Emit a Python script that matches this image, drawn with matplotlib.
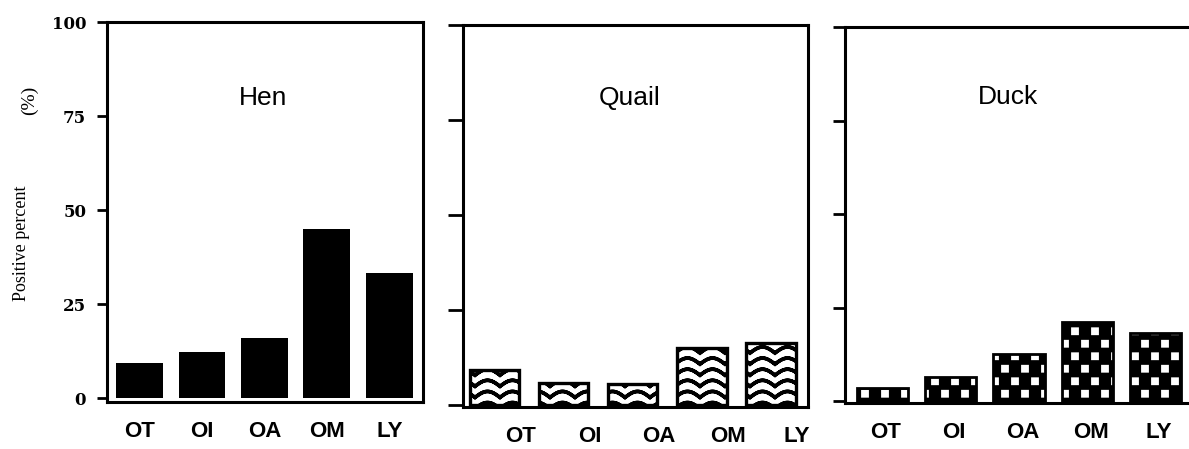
import warnings
import numpy as np
import matplotlib
matplotlib.use('Agg')
import matplotlib.pyplot as plt
from matplotlib import hatch as mhatch
from matplotlib.path import Path

warnings.filterwarnings('ignore')

categories = ['OT', 'OI', 'OA', 'OM', 'LY']
hen = [9.3, 12.3, 16.0, 45.1, 33.2]
quail = [9.2, 5.8, 5.6, 15.0, 16.4]
duck = [3.6, 6.5, 12.5, 21.2, 18.3]
y_ticks = [0, 25, 50, 75, 100]
titles = ['Hen', 'Quail', 'Duck']


class WaveHatch(mhatch.HatchPatternBase):
    # '~' : wavy V-shaped lines (out and back so the filled area stays empty)
    def __init__(self, hatch, density):
        self.num_rows = 9 if '~' in hatch else 0
        self.npts = 161
        self.num_vertices = self.num_rows * self.npts * 2

    def set_vertices_and_codes(self, vertices, codes):
        x = np.linspace(0, 1, self.npts)
        wave = 0.03 * (2 * np.abs(np.sin(np.pi * 4 * x)) - 1)
        n = 2 * self.npts
        for i in range(self.num_rows):
            seg = np.column_stack([x, (i + 0.5) / self.num_rows + wave])
            vertices[i * n:(i + 1) * n] = np.vstack([seg, seg[::-1]])
            codes[i * n] = Path.MOVETO
            codes[i * n + 1:(i + 1) * n] = Path.LINETO


class SquareHatch(mhatch.HatchPatternBase):
    # 's' : staggered small squares
    def __init__(self, hatch, density):
        self.num_rows = 8 if 's' in hatch else 0
        self.num_cols = 5
        self.num_vertices = self.num_rows * self.num_cols * 5

    def set_vertices_and_codes(self, vertices, codes):
        h = 0.021
        sq = np.array([[-h, -h], [h, -h], [h, h], [-h, h], [-h, -h]])
        k = 0
        for r in range(self.num_rows):
            yc = (r + 0.5) / self.num_rows
            shift = 0.5 if r % 2 else 0.0
            for c in range(self.num_cols):
                xc = (c + 0.25 + shift) / self.num_cols
                vertices[k:k + 5] = sq + [xc, yc]
                codes[k:k + 5] = [Path.MOVETO, Path.LINETO, Path.LINETO,
                                  Path.LINETO, Path.CLOSEPOLY]
                k += 5


mhatch._hatch_types.extend([WaveHatch, SquareHatch])
plt.rcParams['hatch.linewidth'] = 2.6

fig = plt.figure(figsize=(11.89, 4.49), dpi=100)
ax_hen = fig.add_axes([0.0900, 0.1047, 0.2658, 0.8463])
ax_quail = fig.add_axes([0.3894, 0.0935, 0.2902, 0.8508])
ax_duck = fig.add_axes([0.7107, 0.1024, 0.2986, 0.8374])

x = np.arange(len(categories))

ax_hen.bar(x, hen, 0.75, color='black', linewidth=0)
ax_quail.bar(x, quail, 0.72, facecolor='white', edgecolor='black',
             hatch='~', linewidth=2.4)
ax_duck.bar(x, duck, 0.75, color='black', edgecolor='white',
            hatch='s', linewidth=0)
ax_duck.bar(x, duck, 0.75, fill=False, edgecolor='black', linewidth=2.0)


def setup(ax, xlim, ylim, shift, ticklen):
    ax.set_xlim(*xlim)
    ax.set_ylim(*ylim)
    ax.set_yticks(y_ticks)
    ax.tick_params(axis='y', direction='out', length=ticklen, width=2)
    ax.set_xticks(x + shift, categories)
    ax.tick_params(axis='x', length=0, pad=14, labelsize=16)
    for lab in ax.get_xticklabels():
        lab.set_fontfamily('Liberation Sans')
        lab.set_fontweight('bold')
    for s in ax.spines.values():
        s.set_linewidth(2.2)


setup(ax_hen, (-0.52, 4.54), (-1, 100), 0.0, 7)
setup(ax_quail, (-0.456, 4.54), (-0.5, 100), 0.38, 11)
setup(ax_duck, (-0.55, 4.655), (-0.5, 100), 0.05, 9)

ax_hen.set_yticklabels([str(t) for t in y_ticks], fontfamily='DejaVu Serif',
                       fontweight='bold', fontsize=12)
ax_hen.tick_params(axis='y', pad=8)
ax_quail.set_yticklabels([])
ax_duck.set_yticklabels([])

title_pos = [(0.494, 0.80), (0.484, 0.81), (0.46, 0.814)]
for ax, t, (tx, ty) in zip([ax_hen, ax_quail, ax_duck], titles, title_pos):
    ax.text(tx, ty, t, transform=ax.transAxes, ha='center', va='center',
            fontsize=19, fontfamily='Liberation Sans')

fig.text(0.0185, 0.458, 'Positive percent', rotation=90, ha='center',
         va='center', fontsize=13, fontfamily='Liberation Serif')
fig.text(0.0245, 0.777, '(%)', rotation=90, ha='center', va='center',
         fontsize=14, fontfamily='Liberation Serif')

fig.savefig('out.png', dpi=100)
